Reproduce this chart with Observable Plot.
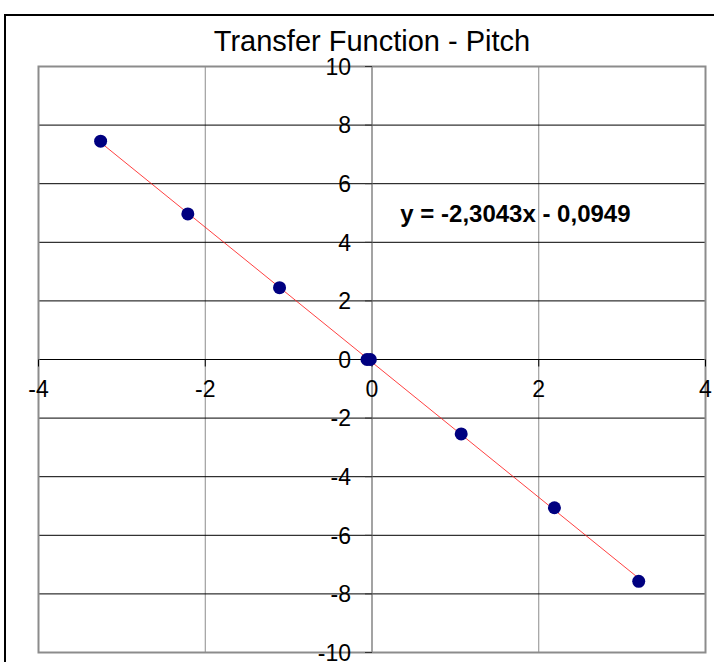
<!DOCTYPE html>
<html>
<head>
<meta charset="utf-8">
<script src="https://cdn.jsdelivr.net/npm/d3@7"></script>
<script src="https://cdn.jsdelivr.net/npm/@observablehq/plot@0.6"></script>
<style>
  html, body { margin: 0; padding: 0; background: #fff; overflow: hidden; }
  #wrap { position: relative; width: 714px; height: 662px; overflow: hidden; }
  #frame { position: absolute; left: 4px; top: 14px; width: 800px; height: 800px;
           border-left: 2px solid #000; border-top: 2px solid #000; }
  #chart { position: absolute; left: 0; top: 0; }
</style>
</head>
<body>
<div id="wrap"><div id="frame"></div><div id="chart"></div></div>
<script>
const titleText = "Transfer Function - Pitch";
const xValues = [-3.255, -2.209, -1.109, -0.06, -0.02, 1.070, 2.188, 3.199];
const yValues = [7.45, 4.97, 2.45, 0, 0, -2.54, -5.06, -7.57];
const slope = -2.3043;
const intercept = -0.0949;
const equationText = "y = -2,3043x - 0,0949";
const equationPos = [0.34, 4.97];
const xTicks = [-4, -2, 0, 2, 4];
const yTicks = [-10, -8, -6, -4, -2, 0, 2, 4, 6, 8, 10];

const points = xValues.map((x, i) => ({x, y: yValues[i]}));
const xmin = d3.min(xValues), xmax = d3.max(xValues);
const trend = [xmin, xmax].map(x => ({x, y: slope * x + intercept}));

const tickLeft = { draw(ctx, size) { const r = Math.sqrt(size / Math.PI); ctx.moveTo(-r, 0); ctx.lineTo(0, 0); } };
const tickDown = { draw(ctx, size) { const r = Math.sqrt(size / Math.PI); ctx.moveTo(0, 0); ctx.lineTo(0, r); } };

const font = "'Liberation Sans', Arial, Helvetica, sans-serif";

const chart = Plot.plot({
  width: 714,
  height: 662,
  marginLeft: 38,
  marginRight: 9,
  marginTop: 66,
  marginBottom: 10,
  style: { fontFamily: font, background: "transparent", overflow: "visible" },
  x: { domain: [-4, 4], axis: null },
  y: { domain: [-10, 10], axis: null },
  marks: [
    Plot.ruleX(xTicks.filter(d => d !== 0), { stroke: "#8c8c8c", strokeWidth: 1 }),
    Plot.ruleY(yTicks, { stroke: "#000", strokeWidth: 1 }),
    Plot.ruleX([0], { stroke: "#666", strokeWidth: 1.2 }),
    Plot.ruleY([0], { stroke: "#000", strokeWidth: 1.2 }),
    Plot.frame({ stroke: "#8c8c8c", strokeWidth: 2 }),
    Plot.dot(yTicks, { x: 0, y: d => d, symbol: tickLeft, r: 7, stroke: "#333", fill: "none", strokeWidth: 1 }),
    Plot.dot(xTicks, { x: d => d, y: 0, symbol: tickDown, r: 7, stroke: "#000", fill: "none", strokeWidth: 1 }),
    Plot.text(yTicks, { x: 0, y: d => d, text: d => String(d), textAnchor: "end", dx: -21, dy: 1, fontSize: 23, fill: "#000" }),
    Plot.text(xTicks, { x: d => d, y: 0, text: d => String(d), dy: 30, fontSize: 23, fill: "#000" }),
    Plot.line(trend, { x: "x", y: "y", stroke: "#ff2020", strokeWidth: 1, strokeOpacity: 0.85 }),
    Plot.dot(points, { x: "x", y: "y", r: 6.5, fill: "#000080", stroke: "none" }),
    Plot.text([equationText], { x: equationPos[0], y: equationPos[1], text: d => d, textAnchor: "start", fontSize: 24, fontWeight: "bold", fill: "#000" }),
    Plot.text([titleText], { frameAnchor: "top", text: d => d, dy: -36, fontSize: 29, fill: "#000" })
  ]
});
document.getElementById("chart").appendChild(chart);
</script>
</body>
</html>
